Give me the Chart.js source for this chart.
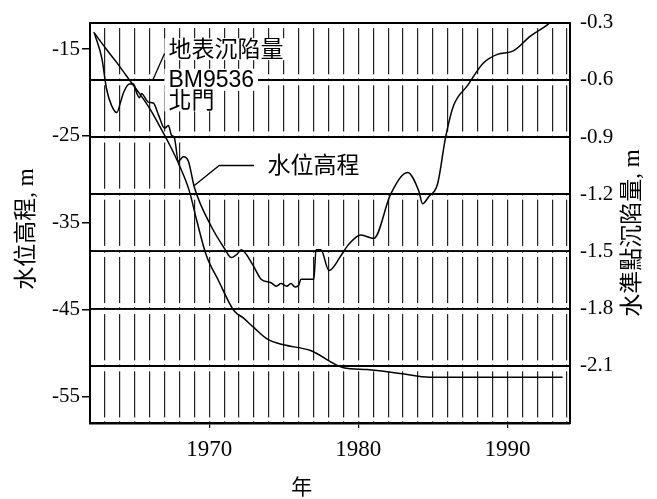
<!DOCTYPE html>
<html>
<head>
<meta charset="utf-8">
<script src="https://cdn.jsdelivr.net/npm/chart.js@4.4.0/dist/chart.umd.min.js"></script>
<style>
  html, body { margin: 0; padding: 0; background: #fff; }
</style>
</head>
<body>
<canvas id="chart" width="657" height="499"></canvas>
<script>
// water level (left axis, m)
const levelYears = [1962.3, 1962.8, 1963.1, 1963.45, 1963.8, 1964.05, 1964.25, 1964.65, 1964.92, 1965.12,
    1965.32, 1965.45, 1965.92, 1966.25, 1966.6, 1967.0, 1967.26, 1967.46, 1967.66, 1967.93,
    1968.26, 1968.6, 1969.0, 1970.13, 1971.0, 1971.47, 1971.87, 1972.14, 1972.94, 1973.48,
    1974.15, 1974.5, 1974.82, 1975.2, 1975.48, 1975.75, 1976.0, 1976.15, 1977.02, 1977.16,
    1977.49, 1978.03, 1978.83, 1979.3, 1980.17, 1981.04, 1982.17, 1983.31, 1984.05, 1984.31,
    1984.72, 1985.32, 1985.85, 1986.39, 1987.32, 1988.39, 1989.33, 1990.4, 1991.54, 1992.68, 1993.2];
const waterLevel = [-13.2, -16.1, -19.5, -21.5, -22.3, -21.1, -20.0, -19.0, -19.0, -20.0,
    -20.6, -20.1, -21.1, -21.2, -22.6, -24.1, -23.8, -24.9, -25.2, -27.9,
    -27.4, -27.9, -30.9, -35.4, -37.9, -39.0, -38.6, -38.1, -39.9, -41.5,
    -41.9, -42.3, -42.0, -42.3, -42.0, -42.4, -42.2, -41.5, -41.5, -38.1,
    -38.1, -40.5, -38.8, -37.6, -36.4, -36.8, -31.7, -29.2, -31.3, -32.8,
    -32.0, -30.5, -25.2, -21.5, -19.2, -16.6, -15.6, -15.2, -13.5, -12.2, -11.4];

// subsidence of BM9536 (right axis, m)
const subsYears = [1962.25, 1963.1, 1963.8, 1964.45, 1965.3, 1966.0, 1966.65, 1967.4, 1968.0, 1968.65,
    1969.2, 1969.8, 1970.6, 1971.65, 1972.3, 1973.0, 1973.9, 1975.0, 1976.8, 1979.0,
    1980.6, 1982.8, 1984.8, 1987.3, 1990.0, 1993.7];
const subsidence = [-0.35, -0.44, -0.51, -0.58, -0.67, -0.75, -0.84, -0.95, -1.05, -1.18,
    -1.35, -1.52, -1.65, -1.81, -1.85, -1.9, -1.96, -1.99, -2.02, -2.11,
    -2.12, -2.14, -2.16, -2.16, -2.16, -2.16];

const yearLabels = [1970, 1980, 1990];
const leftTicks = [-15, -25, -35, -45, -55];
const rightTicks = [-0.3, -0.6, -0.9, -1.2, -1.5, -1.8, -2.1, -2.4];

const gridYears = [];
for (let yr = 1963; yr <= 1994; yr++) gridYears.push(yr);

const serif = "'Liberation Serif', 'Noto Sans CJK TC', serif";
const cjk = "'Liberation Sans', 'Noto Sans CJK TC', sans-serif";

const overlay = {
    id: 'overlay',
    beforeDatasetsDraw(chart) {
        const { ctx, chartArea: a, scales: { x, y, y2 } } = chart;
        ctx.save();
        ctx.beginPath();
        ctx.rect(a.left + 1.5, a.top + 1.5, a.width - 3, a.height - 3);
        ctx.clip();
        ctx.fillStyle = '#fff';

        // small breaks in the year rules next to every horizontal rule
        rightTicks.forEach(v => {
            const py = y2.getPixelForValue(v);
            ctx.fillRect(a.left, py - 5.5, a.width, 4.2);
            ctx.fillRect(a.left, py + 1.3, a.width, 4.2);
        });

        // blank band that holds the water level label
        const b1 = y2.getPixelForValue(-0.9), b2 = y2.getPixelForValue(-1.2);
        const bx = x.getPixelForValue(1968.6);
        ctx.fillRect(bx, b1 + 1.3, a.right - bx, b2 - b1 - 2.6);

        const labels = [
            { t: '地表沉陷量', yr: 1967.26, v: -15.0, ax: y },
            { t: 'BM9536', yr: 1967.26, v: -0.6, ax: y2 },
            { t: '北門', yr: 1967.26, v: -20.9, ax: y },
            { t: '水位高程', yr: 1973.9, v: -28.4, ax: y }
        ];
        ctx.font = '23px ' + cjk;
        ctx.textBaseline = 'middle';
        labels.forEach(l => {
            const px = x.getPixelForValue(l.yr), py = l.ax.getPixelForValue(l.v);
            const w = ctx.measureText(l.t).width;
            ctx.fillStyle = '#fff';
            ctx.fillRect(px - 4, py - 11, w + 8, 22);
            ctx.fillStyle = '#000';
            ctx.fillText(l.t, px, py + 1);
        });

        // leader lines
        ctx.strokeStyle = '#000';
        ctx.lineWidth = 1.3;
        ctx.beginPath();
        ctx.moveTo(x.getPixelForValue(1967.0), y.getPixelForValue(-15.5));
        ctx.lineTo(x.getPixelForValue(1966.2), y.getPixelForValue(-18.6));
        ctx.moveTo(x.getPixelForValue(1973.0), y.getPixelForValue(-28.4));
        ctx.lineTo(x.getPixelForValue(1970.67), y.getPixelForValue(-28.4));
        ctx.lineTo(x.getPixelForValue(1969.0), y.getPixelForValue(-30.7));
        ctx.stroke();
        ctx.restore();
    },
    afterDraw(chart) {
        const { ctx, scales: { x } } = chart;
        ctx.save();
        ctx.fillStyle = '#000';
        ctx.font = '23px ' + serif;
        ctx.textAlign = 'center';
        ctx.textBaseline = 'middle';
        ctx.translate(27, 229);
        ctx.rotate(-Math.PI / 2);
        ctx.fillText('水位高程, m', 0, 0);
        ctx.restore();

        ctx.save();
        ctx.fillStyle = '#000';
        ctx.font = '23px ' + serif;
        ctx.textAlign = 'center';
        ctx.textBaseline = 'middle';
        ctx.translate(633, 233);
        ctx.rotate(-Math.PI / 2);
        ctx.fillText('水準點沉陷量, m', 0, 0);
        ctx.restore();

        ctx.save();
        ctx.fillStyle = '#000';
        ctx.font = '21px ' + serif;
        ctx.textAlign = 'center';
        ctx.textBaseline = 'middle';
        ctx.fillText('年', x.getPixelForValue(1976.2), 488);
        ctx.restore();
    }
};

new Chart(document.getElementById('chart'), {
    type: 'line',
    data: {
        datasets: [{
            label: '地表沉陷量',
            data: subsYears.map((yr, i) => ({ x: yr, y: subsidence[i] })),
            yAxisID: 'y2',
            borderColor: '#000',
            borderWidth: 1.5,
            pointRadius: 0,
            cubicInterpolationMode: 'monotone'
        }, {
            label: '水位高程',
            data: levelYears.map((yr, i) => ({ x: yr, y: waterLevel[i] })),
            yAxisID: 'y',
            borderColor: '#000',
            borderWidth: 1.5,
            pointRadius: 0,
            cubicInterpolationMode: 'monotone'
        }]
    },
    options: {
        responsive: false,
        animation: false,
        layout: { padding: { top: 16, left: 0, right: 0, bottom: 0 } },
        plugins: { legend: { display: false }, tooltip: { enabled: false } },
        scales: {
            x: {
                type: 'linear',
                min: 1962,
                max: 1994.2,
                afterBuildTicks: s => { s.ticks = gridYears.map(v => ({ value: v })); },
                afterFit: s => { s.height = 76; },
                grid: {
                    color: '#222',
                    lineWidth: 1.2,
                    tickLength: 5,
                    tickColor: c => (c.tick && yearLabels.includes(c.tick.value)) ? '#000' : 'rgba(0,0,0,0)'
                },
                border: { color: '#000', width: 2.5, dash: [] },
                ticks: {
                    autoSkip: false,
                    maxRotation: 0,
                    padding: 8,
                    color: '#000',
                    font: { family: serif, size: 23 },
                    callback: v => yearLabels.includes(v) ? String(v) : ''
                }
            },
            y: {
                position: 'left',
                min: -58.06,
                max: -11.94,
                afterBuildTicks: s => { s.ticks = leftTicks.map(v => ({ value: v })); },
                afterFit: s => { s.width = 90; },
                grid: { drawOnChartArea: false, tickLength: 8, tickColor: '#000', lineWidth: 1.5 },
                border: { color: '#000', width: 2 },
                ticks: {
                    padding: 2,
                    color: '#000',
                    font: { family: serif, size: 21 },
                    callback: v => String(v)
                }
            },
            y2: {
                position: 'right',
                min: -2.4,
                max: -0.3,
                afterBuildTicks: s => { s.ticks = rightTicks.map(v => ({ value: v })); },
                afterFit: s => { s.width = 87; },
                grid: { color: '#000', lineWidth: 2, drawTicks: false },
                border: { color: '#000', width: 2 },
                ticks: {
                    padding: 10,
                    color: '#000',
                    font: { family: serif, size: 21 },
                    callback: v => v === -2.4 ? '' : v.toFixed(1)
                }
            }
        }
    },
    plugins: [overlay]
});
</script>
</body>
</html>
